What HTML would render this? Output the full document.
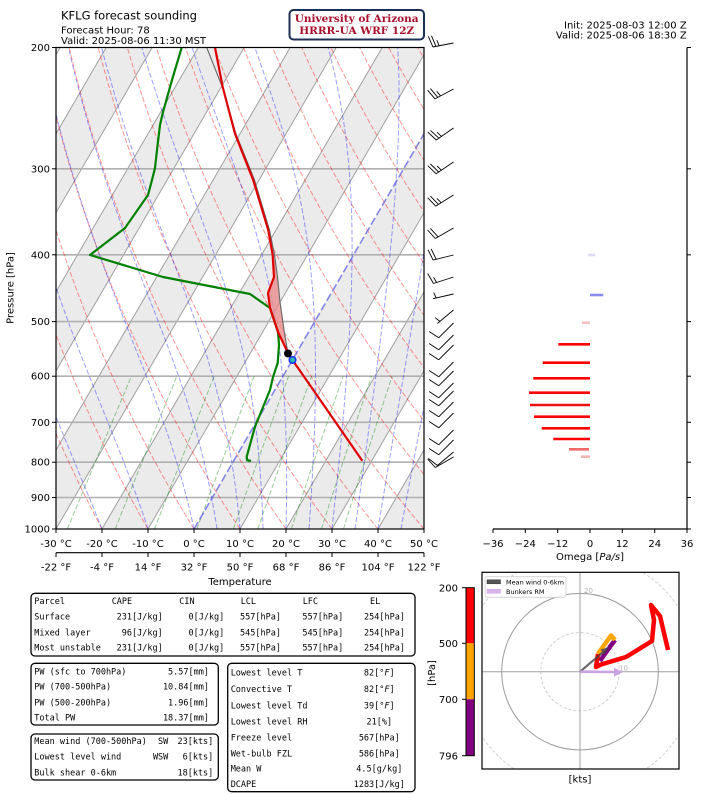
<!DOCTYPE html>
<html><head><meta charset="utf-8">
<style>
html,body{margin:0;padding:0;background:#fff;}
svg{display:block;}
text{font-family:"DejaVu Sans","Liberation Sans",sans-serif;}
.m{font-family:"DejaVu Sans Mono","Liberation Mono",monospace;font-size:8.5px;fill:#000;}
.t{font-size:10px;fill:#000;}
</style></head><body>
<svg id="s" width="701" height="795" viewBox="0 0 701 795" xmlns="http://www.w3.org/2000/svg">
<defs>
<clipPath id="cp"><rect x="56" y="47.5" width="368" height="481.5"/></clipPath>
<clipPath id="ch"><rect x="482" y="572.3" width="197" height="196.7"/></clipPath>
</defs>
<rect width="701" height="795" fill="#fff"/>

<!-- Skew-T -->
<g clip-path="url(#cp)">
 <g fill="#ebebeb">
  <polygon points="-266,529 -220,529 60.2,47.5 14.2,47.5"/>
  <polygon points="-174,529 -128,529 152.2,47.5 106.2,47.5"/>
  <polygon points="-82,529 -36,529 244.2,47.5 198.2,47.5"/>
  <polygon points="10,529 56,529 336.2,47.5 290.2,47.5"/>
  <polygon points="102,529 148,529 428.2,47.5 382.2,47.5"/>
  <polygon points="194,529 240,529 520.2,47.5 474.2,47.5"/>
  <polygon points="286,529 332,529 612.2,47.5 566.2,47.5"/>
  <polygon points="378,529 424,529 704.2,47.5 658.2,47.5"/>
 </g>
 <g stroke="#a0a0a0" stroke-width="1">
  <line x1="-266" y1="529" x2="14.2" y2="47.5"/>
  <line x1="-220" y1="529" x2="60.2" y2="47.5"/>
  <line x1="-174" y1="529" x2="106.2" y2="47.5"/>
  <line x1="-128" y1="529" x2="152.2" y2="47.5"/>
  <line x1="-82" y1="529" x2="198.2" y2="47.5"/>
  <line x1="-36" y1="529" x2="244.2" y2="47.5"/>
  <line x1="10" y1="529" x2="290.2" y2="47.5"/>
  <line x1="56" y1="529" x2="336.2" y2="47.5"/>
  <line x1="102" y1="529" x2="382.2" y2="47.5"/>
  <line x1="148" y1="529" x2="428.2" y2="47.5"/>
  <line x1="240" y1="529" x2="520.2" y2="47.5"/>
  <line x1="286" y1="529" x2="566.2" y2="47.5"/>
  <line x1="332" y1="529" x2="612.2" y2="47.5"/>
  <line x1="378" y1="529" x2="658.2" y2="47.5"/>
 </g>
 <g stroke="#b0b0b0" stroke-width="1.6">
  <line x1="56" y1="168.8" x2="424" y2="168.8"/>
  <line x1="56" y1="254.8" x2="424" y2="254.8"/>
  <line x1="56" y1="321.6" x2="424" y2="321.6"/>
  <line x1="56" y1="376.2" x2="424" y2="376.2"/>
  <line x1="56" y1="422.3" x2="424" y2="422.3"/>
  <line x1="56" y1="462.2" x2="424" y2="462.2"/>
  <line x1="56" y1="497.5" x2="424" y2="497.5"/>
 </g>
 <g id="bg" fill="none"></g>
 <line x1="194" y1="529" x2="474.2" y2="47.5" stroke="#4a4ae0" stroke-opacity="0.65" stroke-width="1.6" stroke-dasharray="8,3"/>
 <polygon points="288,353.5 278,332 270,308 268,293 274,277 272.7,255.3 274.5,255 277.5,277 280,302 284,330" fill="#e88c8c" fill-opacity="0.8"/>
 <polyline fill="none" stroke="#666" stroke-width="1.1" points="206.7,47.5 222.7,88 236,134 254.5,180 269.5,230 274.5,255 277.5,277 280,302 284,330 288,353.5 292.5,360 341,430 362.3,460.7"/>
 <polyline fill="none" stroke="#008000" stroke-width="2.2" stroke-linejoin="round" points="181.7,47.5 172,80 163,112 160,125 157,150 155,168 152,180 148,195 125,228 90,255 163,277 250,294 270,308 278,332 279,345 277.7,363 273,377 270,390 255,426.7 246.7,456.7 247,460 251,461"/>
 <polyline fill="none" stroke="#e00000" stroke-width="2.2" stroke-linejoin="round" points="215,47.5 222.7,87 235,133.7 253.3,180.3 268.3,230.3 272.7,255.3 274,277 268,293 270,308 278,332 288,353 292.5,360 341,430 362.3,460.7"/>
 <circle cx="288" cy="353.5" r="4" fill="#000"/>
 <circle cx="292.5" cy="360" r="3.3" fill="#30b8b0" stroke="#1030ff" stroke-width="1.5"/>
</g>
<rect x="56" y="47.5" width="368" height="481.5" fill="none" stroke="#000" stroke-width="1.2"/>

<!-- y ticks -->
<g stroke="#000" stroke-width="1">
 <line x1="52" y1="47.5" x2="56" y2="47.5"/><line x1="52" y1="168.8" x2="56" y2="168.8"/>
 <line x1="52" y1="254.8" x2="56" y2="254.8"/><line x1="52" y1="321.6" x2="56" y2="321.6"/>
 <line x1="52" y1="376.2" x2="56" y2="376.2"/><line x1="52" y1="422.3" x2="56" y2="422.3"/>
 <line x1="52" y1="462.2" x2="56" y2="462.2"/><line x1="52" y1="497.5" x2="56" y2="497.5"/>
 <line x1="52" y1="529" x2="56" y2="529"/>
</g>
<g class="t" text-anchor="end">
 <text class="t" x="50" y="51">200</text><text class="t" x="50" y="172.3">300</text>
 <text class="t" x="50" y="258.3">400</text><text class="t" x="50" y="325.1">500</text>
 <text class="t" x="50" y="379.7">600</text><text class="t" x="50" y="425.8">700</text>
 <text class="t" x="50" y="465.7">800</text><text class="t" x="50" y="501">900</text>
 <text class="t" x="50" y="532.5">1000</text>
</g>
<text class="t" transform="translate(13.5,288) rotate(-90)" text-anchor="middle">Pressure [hPa]</text>

<!-- x ticks -->
<g stroke="#000" stroke-width="1">
 <line x1="56" y1="529" x2="56" y2="533"/><line x1="102" y1="529" x2="102" y2="533"/>
 <line x1="148" y1="529" x2="148" y2="533"/><line x1="194" y1="529" x2="194" y2="533"/>
 <line x1="240" y1="529" x2="240" y2="533"/><line x1="286" y1="529" x2="286" y2="533"/>
 <line x1="332" y1="529" x2="332" y2="533"/><line x1="378" y1="529" x2="378" y2="533"/>
 <line x1="424" y1="529" x2="424" y2="533"/>
 <line x1="56" y1="552.7" x2="424" y2="552.7" stroke-width="1.2"/>
 <line x1="56" y1="552.7" x2="56" y2="557"/><line x1="102" y1="552.7" x2="102" y2="557"/>
 <line x1="148" y1="552.7" x2="148" y2="557"/><line x1="194" y1="552.7" x2="194" y2="557"/>
 <line x1="240" y1="552.7" x2="240" y2="557"/><line x1="286" y1="552.7" x2="286" y2="557"/>
 <line x1="332" y1="552.7" x2="332" y2="557"/><line x1="378" y1="552.7" x2="378" y2="557"/>
 <line x1="424" y1="552.7" x2="424" y2="557"/>
</g>
<g text-anchor="middle">
 <text class="t" x="56" y="547">-30 °C</text><text class="t" x="102" y="547">-20 °C</text>
 <text class="t" x="148" y="547">-10 °C</text><text class="t" x="194" y="547">0 °C</text>
 <text class="t" x="240" y="547">10 °C</text><text class="t" x="286" y="547">20 °C</text>
 <text class="t" x="332" y="547">30 °C</text><text class="t" x="378" y="547">40 °C</text>
 <text class="t" x="424" y="547">50 °C</text>
 <text class="t" x="56" y="570.5">-22 °F</text><text class="t" x="102" y="570.5">-4 °F</text>
 <text class="t" x="148" y="570.5">14 °F</text><text class="t" x="194" y="570.5">32 °F</text>
 <text class="t" x="240" y="570.5">50 °F</text><text class="t" x="286" y="570.5">68 °F</text>
 <text class="t" x="332" y="570.5">86 °F</text><text class="t" x="378" y="570.5">104 °F</text>
 <text class="t" x="424" y="570.5">122 °F</text>
 <text class="t" x="240" y="585">Temperature</text>
</g>

<!-- titles -->
<text x="61" y="19.5" style="font-size:11.5px">KFLG forecast sounding</text>
<text class="t" x="61" y="33.5">Forecast Hour: 78</text>
<text class="t" x="61" y="44">Valid: 2025-08-06 11:30 MST</text>
<rect x="289.5" y="10" width="134.5" height="29.5" rx="4" fill="#fff" stroke="#1e2f55" stroke-width="2"/>
<g text-anchor="middle" style="font-family:'DejaVu Serif','Liberation Serif',serif;font-weight:bold;font-size:10.5px;" fill="#a8102e">
 <text x="356.7" y="22" style="font-family:'DejaVu Serif','Liberation Serif',serif;">University of Arizona</text>
 <text x="356.7" y="34" style="font-family:'DejaVu Serif','Liberation Serif',serif;">HRRR-UA WRF 12Z</text>
</g>
<g text-anchor="end">
 <text class="t" x="686.7" y="28.5">Init: 2025-08-03 12:00 Z</text>
 <text class="t" x="686.7" y="38.5">Valid: 2025-08-06 18:30 Z</text>
</g>

<!-- barbs -->
<g id="barbs" stroke="#000" stroke-width="0.9" fill="none"></g>

<!-- omega panel -->
<g stroke-width="2.6" stroke-linecap="butt">
 <line x1="588" y1="255" x2="595" y2="255" stroke="#dcdcf6"/>
 <line x1="590" y1="295" x2="603.3" y2="295" stroke="#8c8cf0"/>
 <line x1="582" y1="322.7" x2="590" y2="322.7" stroke="#f5c0c0"/>
 <line x1="558.3" y1="344.3" x2="590" y2="344.3" stroke="#ff0000"/>
 <line x1="542.7" y1="362.7" x2="590" y2="362.7" stroke="#ff0000"/>
 <line x1="533.3" y1="378.3" x2="590" y2="378.3" stroke="#ff0000"/>
 <line x1="529" y1="392.7" x2="590" y2="392.7" stroke="#ff0000"/>
 <line x1="530" y1="405" x2="590" y2="405" stroke="#f01010"/>
 <line x1="534" y1="416.7" x2="590" y2="416.7" stroke="#ff0000"/>
 <line x1="541.7" y1="428.3" x2="590" y2="428.3" stroke="#ff0000"/>
 <line x1="553.3" y1="439" x2="590" y2="439" stroke="#ff0000"/>
 <line x1="569" y1="449.3" x2="589" y2="449.3" stroke="#f06a6a"/>
 <line x1="581" y1="456.7" x2="590" y2="456.7" stroke="#f5b5b5"/>
</g>
<g stroke="#000" stroke-width="1.2">
 <line x1="687" y1="47.5" x2="687" y2="529"/>
 <line x1="493" y1="529" x2="687" y2="529"/>
</g>
<g stroke="#000" stroke-width="1">
 <line x1="687" y1="47.5" x2="691" y2="47.5"/><line x1="687" y1="168.8" x2="691" y2="168.8"/>
 <line x1="687" y1="254.8" x2="691" y2="254.8"/><line x1="687" y1="321.6" x2="691" y2="321.6"/>
 <line x1="687" y1="376.2" x2="691" y2="376.2"/><line x1="687" y1="422.3" x2="691" y2="422.3"/>
 <line x1="687" y1="462.2" x2="691" y2="462.2"/><line x1="687" y1="497.5" x2="691" y2="497.5"/>
 <line x1="687" y1="529" x2="691" y2="529"/>
 <line x1="493" y1="529" x2="493" y2="533"/><line x1="525.3" y1="529" x2="525.3" y2="533"/>
 <line x1="557.7" y1="529" x2="557.7" y2="533"/><line x1="590" y1="529" x2="590" y2="533"/>
 <line x1="622.3" y1="529" x2="622.3" y2="533"/><line x1="654.7" y1="529" x2="654.7" y2="533"/>
 <line x1="687" y1="529" x2="687" y2="533"/>
</g>
<g text-anchor="middle">
 <text class="t" x="493" y="547">−36</text><text class="t" x="525.3" y="547">−24</text>
 <text class="t" x="557.7" y="547">−12</text><text class="t" x="590" y="547">0</text>
 <text class="t" x="622.3" y="547">12</text><text class="t" x="654.7" y="547">24</text>
 <text class="t" x="687" y="547">36</text>
 <text class="t" x="590" y="560">Omega [<tspan font-style="italic">Pa/s</tspan>]</text>
</g>

<!-- tables -->
<g fill="none" stroke="#000" stroke-width="1.3">
 <rect x="31" y="593.3" width="384" height="62.7" rx="4"/>
 <rect x="31" y="663.3" width="187.3" height="61.7" rx="4"/>
 <rect x="31" y="734" width="187.3" height="46" rx="4"/>
 <rect x="227.7" y="663.3" width="187.3" height="128.4" rx="4"/>
</g>
<g>
 <text class="m" x="34.3" y="604">Parcel</text>
 <text class="m" x="111.7" y="604">CAPE</text>
 <text class="m" x="179.3" y="604">CIN</text>
 <text class="m" x="240.7" y="604">LCL</text>
 <text class="m" x="302.7" y="604">LFC</text>
 <text class="m" x="370" y="604">EL</text>
 <text class="m" x="34.3" y="619.7">Surface</text>
 <text class="m" x="34.3" y="635.3">Mixed layer</text>
 <text class="m" x="34.3" y="650.7">Most unstable</text>
 <g text-anchor="end">
  <text class="m" x="162.7" y="619.7">231[J/kg]</text>
  <text class="m" x="162.7" y="635.3">96[J/kg]</text>
  <text class="m" x="162.7" y="650.7">231[J/kg]</text>
  <text class="m" x="224.3" y="619.7">0[J/kg]</text>
  <text class="m" x="224.3" y="635.3">0[J/kg]</text>
  <text class="m" x="224.3" y="650.7">0[J/kg]</text>
  <text class="m" x="281" y="619.7">557[hPa]</text>
  <text class="m" x="281" y="635.3">545[hPa]</text>
  <text class="m" x="281" y="650.7">557[hPa]</text>
  <text class="m" x="343.3" y="619.7">557[hPa]</text>
  <text class="m" x="343.3" y="635.3">545[hPa]</text>
  <text class="m" x="343.3" y="650.7">557[hPa]</text>
  <text class="m" x="405" y="619.7">254[hPa]</text>
  <text class="m" x="405" y="635.3">254[hPa]</text>
  <text class="m" x="405" y="650.7">254[hPa]</text>
 </g>
 <text class="m" x="34.3" y="674.7">PW (sfc to 700hPa)</text>
 <text class="m" x="34.3" y="689.7">PW (700-500hPa)</text>
 <text class="m" x="34.3" y="705.3">PW (500-200hPa)</text>
 <text class="m" x="34.3" y="720.7">Total PW</text>
 <g text-anchor="end">
  <text class="m" x="209" y="674.7">5.57[mm]</text>
  <text class="m" x="209" y="689.7">10.84[mm]</text>
  <text class="m" x="209" y="705.3">1.96[mm]</text>
  <text class="m" x="209" y="720.7">18.37[mm]</text>
 </g>
 <text class="m" x="34.3" y="744">Mean wind (700-500hPa)</text>
 <text class="m" x="34.3" y="759.7">Lowest level wind</text>
 <text class="m" x="34.3" y="775.3">Bulk shear 0-6km</text>
 <g text-anchor="end">
  <text class="m" x="168.3" y="744">SW</text>
  <text class="m" x="168.3" y="759.7">WSW</text>
  <text class="m" x="213.3" y="744">23[kts]</text>
  <text class="m" x="213.3" y="759.7">6[kts]</text>
  <text class="m" x="213.3" y="775.3">18[kts]</text>
 </g>
 <text class="m" x="230.7" y="675.3">Lowest level T</text>
 <text class="m" x="230.7" y="692">Convective T</text>
 <text class="m" x="230.7" y="708.7">Lowest level Td</text>
 <text class="m" x="230.7" y="724.7">Lowest level RH</text>
 <text class="m" x="230.7" y="740.7">Freeze level</text>
 <text class="m" x="230.7" y="756.3">Wet-bulb FZL</text>
 <text class="m" x="230.7" y="771.3">Mean W</text>
 <text class="m" x="230.7" y="787">DCAPE</text>
 <g text-anchor="middle">
  <text class="m" x="379.3" y="675.3">82[°<tspan font-style="italic">F</tspan>]</text>
  <text class="m" x="379.3" y="692">82[°<tspan font-style="italic">F</tspan>]</text>
  <text class="m" x="379.3" y="708.7">39[°<tspan font-style="italic">F</tspan>]</text>
  <text class="m" x="379.3" y="724.7">21[%]</text>
  <text class="m" x="379.3" y="740.7">567[hPa]</text>
  <text class="m" x="379.3" y="756.3">586[hPa]</text>
  <text class="m" x="379.3" y="771.3">4.5[g/kg]</text>
  <text class="m" x="379.3" y="787">1283[J/kg]</text>
 </g>
</g>

<!-- colorbar -->
<rect x="466" y="587.7" width="8.3" height="55.6" fill="#ff0000"/>
<rect x="466" y="643.3" width="8.3" height="56" fill="#ffa500"/>
<rect x="466" y="699.3" width="8.3" height="56.4" fill="#800080"/>
<rect x="466" y="587.7" width="8.3" height="168" fill="none" stroke="#000" stroke-width="1"/>
<g stroke="#000" stroke-width="1">
 <line x1="462" y1="587.7" x2="466" y2="587.7"/><line x1="462" y1="643.3" x2="466" y2="643.3"/>
 <line x1="462" y1="699.3" x2="466" y2="699.3"/><line x1="462" y1="755.7" x2="466" y2="755.7"/>
</g>
<g text-anchor="end">
 <text class="t" x="458" y="591.5">200</text>
 <text class="t" x="458" y="647">500</text>
 <text class="t" x="458" y="703">700</text>
 <text class="t" x="458" y="759.5">796</text>
</g>
<text class="t" transform="translate(435,673) rotate(-90)" text-anchor="middle">[hPa]</text>

<!-- hodograph -->
<g clip-path="url(#ch)">
 <circle cx="580" cy="671.7" r="117.5" fill="none" stroke="#d0d0d0" stroke-width="1" stroke-dasharray="3,2"/>
 <circle cx="580" cy="671.7" r="39.15" fill="none" stroke="#d0d0d0" stroke-width="1" stroke-dasharray="3,2"/>
 <circle cx="580" cy="671.7" r="78.3" fill="none" stroke="#9a9a9a" stroke-width="1"/>
 <line x1="482" y1="671.7" x2="679" y2="671.7" stroke="#a0a0a0" stroke-width="1"/>
 <line x1="580" y1="572" x2="580" y2="769" stroke="#a0a0a0" stroke-width="1"/>
 <text x="584" y="593" style="font-size:7px" fill="#b0b0b0">20</text>
 <text x="619" y="670.5" style="font-size:7px" fill="#b0b0b0">10</text>
 <polyline fill="none" stroke="#800080" stroke-width="4.5" stroke-linejoin="round" points="600,661 607,651 615,640"/>
 <polyline fill="none" stroke="#ffa500" stroke-width="4.5" stroke-linejoin="round" points="615,640 611,635.5 600,651 598,654"/>
 <polyline fill="none" stroke="#ff0000" stroke-width="4.5" stroke-linejoin="round" points="598,654 596,667 601,664.5 626,657 652,641 654,620 651,605 660,616 668,650"/>
 <line x1="580" y1="671.7" x2="604" y2="651.3" stroke="#444" stroke-opacity="0.8" stroke-width="2.2"/>
 <polygon points="609,647 600.5,649.5 604.5,654.2" fill="#444" fill-opacity="0.8"/>
 <line x1="580" y1="671.7" x2="615" y2="672" stroke="#c9a2e2" stroke-width="2.6"/>
 <polygon points="623,672.2 614,667.8 614,676.5" fill="#c9a2e2"/>
 <rect x="485" y="576.7" width="81" height="20.6" rx="2" fill="#fff" fill-opacity="0.85" stroke="#d0d0d0" stroke-width="0.8"/>
 <rect x="487" y="579.8" width="13.5" height="4" fill="#555" stroke="#333" stroke-width="0.5"/>
 <rect x="487" y="589.3" width="13.5" height="4" fill="#d8b4ea" stroke="#c9a2e2" stroke-width="0.5"/>
 <text x="506" y="584.3" style="font-size:6.5px" fill="#000">Mean wind 0-6km</text>
 <text x="506" y="593.8" style="font-size:6.5px" fill="#000">Bunkers RM</text>
</g>
<rect x="482" y="572.3" width="197" height="196.7" fill="none" stroke="#000" stroke-width="1.2"/>
<text class="t" x="580" y="782.5" text-anchor="middle">[kts]</text>
</svg>
<script>
(function(){
var NS='http://www.w3.org/2000/svg';
function X(T,p){return 194+4.6*T+174.13*Math.log(1000/p);}
function Y(p){return 529-299.2*Math.log(1000/p);}
function pl(g,pts,attrs){var e=document.createElementNS(NS,'polyline');e.setAttribute('points',pts.map(function(q){return q[0].toFixed(1)+','+q[1].toFixed(1);}).join(' '));for(var k in attrs)e.setAttribute(k,attrs[k]);g.appendChild(e);}
var bg=document.getElementById('bg');
for(var t0=-40;t0<=200;t0+=10){var th=t0+273.15,pts=[];for(var p=1000;p>=200;p-=10){var T=th*Math.pow(p/1000,0.2857)-273.15;pts.push([X(T,p),Y(p)]);}
pl(bg,pts,{stroke:'#ff0000','stroke-opacity':'0.42','stroke-width':'1','stroke-dasharray':'5,2.2',fill:'none'});}
function dTdp(T,p){var Tc=T-273.15;var es=6.112*Math.exp(17.67*Tc/(Tc+243.5));var rs=0.622*es/(p-es);var Lv=2.501e6,Rd=287.04,Cp=1005.7;return (Rd*T+Lv*rs)/(Cp+Lv*Lv*rs*0.622/(Rd*T*T))/p;}
function moist(T0,p0,pend){var T=T0,p=p0,dp=-2,out=[[T-273.15,p]];while(p>pend+1e-6){var k1=dTdp(T,p),k2=dTdp(T+k1*dp/2,p+dp/2),k3=dTdp(T+k2*dp/2,p+dp/2),k4=dTdp(T+k3*dp,p+dp);T+=dp*(k1+2*k2+2*k3+k4)/6;p+=dp;out.push([T-273.15,p]);}return out;}
var mts=[-50,-40,-30,-20,-10,0,5,10,15,20,25,30,35,40,45];
mts.forEach(function(t){var r=moist(t+273.15,1000,200);pl(bg,r.filter(function(q,i){return i%3==0||i==r.length-1;}).map(function(q){return [X(q[0],q[1]),Y(q[1])];}),{stroke:'#0000ff','stroke-opacity':'0.38','stroke-width':'1','stroke-dasharray':'5,2.2',fill:'none'});});
[0.0004,0.001,0.002,0.004,0.007,0.01,0.016,0.024,0.032].forEach(function(w){var pts=[];for(var p=1000;p>=600;p-=10){var e=p*w/(0.622+w);var l=Math.log(e/6.112);var Td=243.5*l/(17.67-l);pts.push([X(Td,p),Y(p)]);}
pl(bg,pts,{stroke:'#008000','stroke-opacity':'0.4','stroke-width':'1','stroke-dasharray':'5,2.2',fill:'none'});});
var bgp=document.getElementById('barbs');
var barbs=[[43,169,2,1],[89,152,2,1],[128,145,2,1],[162,146,2,1],[195,148,2,1],[228,150,2,0],[255,166,2,0],[277,162,1,1],[294,167,0,1],[310,140,0,1],[323,135,1,0],[335,135,1,0],[345,135,1,0],[362,135,1,0],[371,135,1,0],[383,135,1,0],[391,135,1,0],[402,135,1,0],[413,135,1,0],[430,135,1,0],[440,135,1,0],[452,140,1,0],[457,150,1,0]];
barbs.forEach(function(b){var yb=b[0],a=b[1]*Math.PI/180,L=21,bx=453.5;var tx=bx+L*Math.cos(a),ty=yb+L*Math.sin(a);var d='M'+bx+','+yb+'L'+tx.toFixed(1)+','+ty.toFixed(1);var fa=(b[1]+78)*Math.PI/180,fx=Math.cos(fa),fy=Math.sin(fa);var pos=0;
for(var i=0;i<b[2];i++){var px=tx-pos*Math.cos(a),py=ty-pos*Math.sin(a);d+='M'+px.toFixed(1)+','+py.toFixed(1)+'l'+(11.5*fx).toFixed(1)+','+(11.5*fy).toFixed(1);pos+=3.2;}
if(b[3]){if(b[2]===0)pos=3.2;var px2=tx-pos*Math.cos(a),py2=ty-pos*Math.sin(a);d+='M'+px2.toFixed(1)+','+py2.toFixed(1)+'l'+(6*fx).toFixed(1)+','+(6*fy).toFixed(1);}
var e=document.createElementNS(NS,'path');e.setAttribute('d',d);bgp.appendChild(e);});
})();
</script>
</body></html>
